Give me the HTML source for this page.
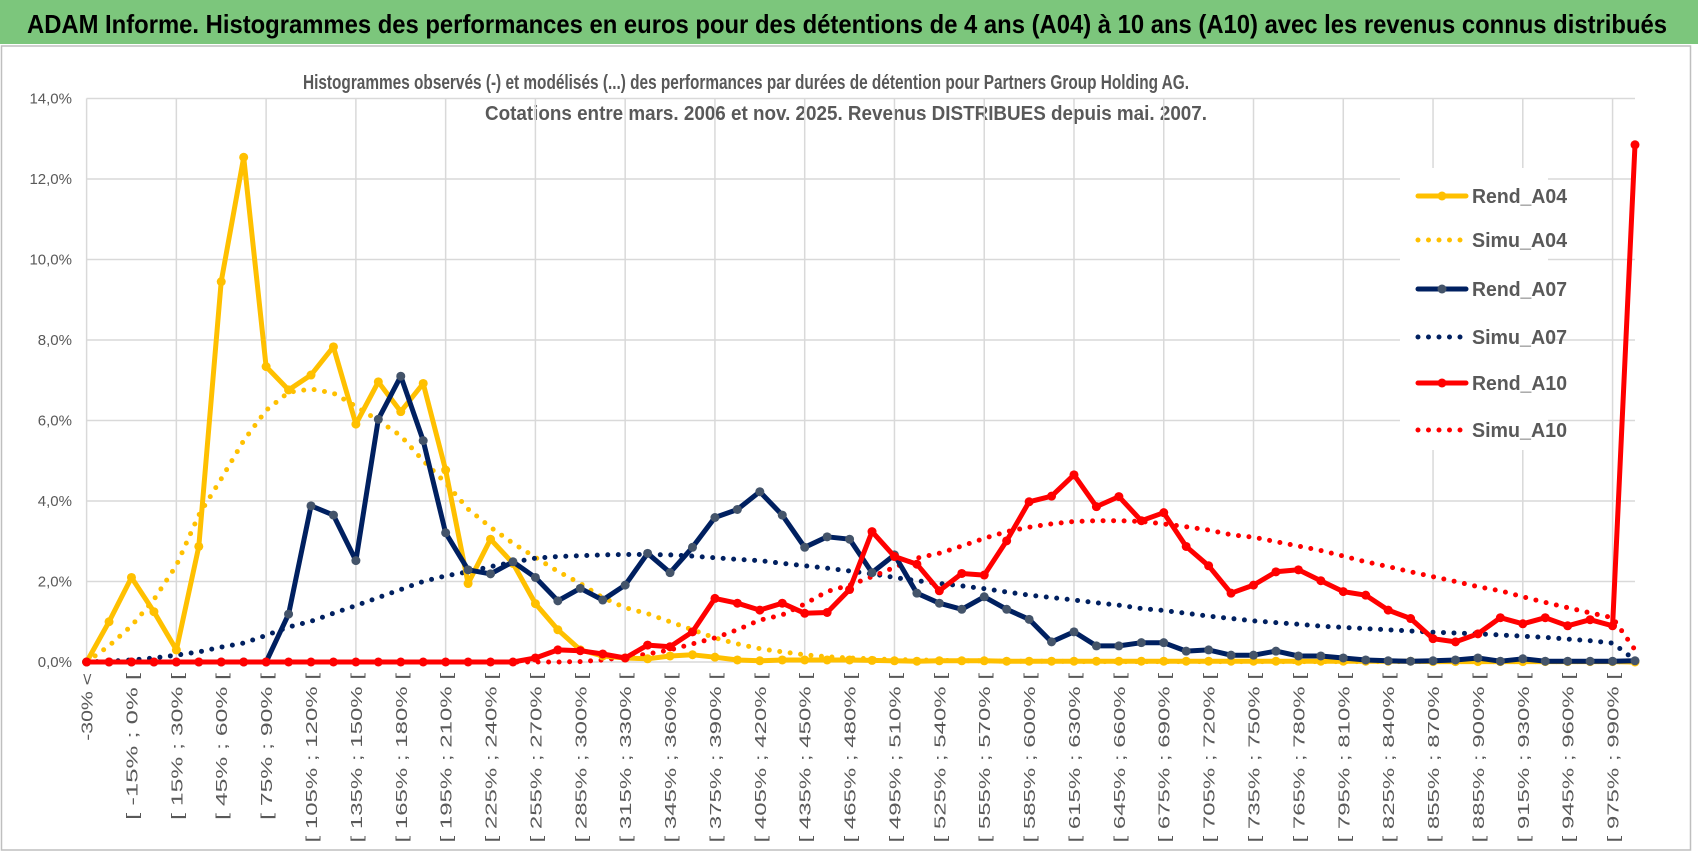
<!DOCTYPE html>
<html><head><meta charset="utf-8"><style>
html,body{margin:0;padding:0;background:#fff;}
svg{display:block;font-family:"Liberation Sans",sans-serif;}
</style></head><body>
<svg id="chart" width="1698" height="854" viewBox="0 0 1698 854">
<rect x="0" y="0" width="1698" height="854" fill="#fff"/>
<rect x="0" y="0" width="1698" height="44" fill="#7cc67c"/>
<text x="27" y="33" font-size="26" font-weight="bold" fill="#000" textLength="1640" lengthAdjust="spacingAndGlyphs">ADAM Informe. Histogrammes des performances en euros pour des détentions de 4 ans (A04) à 10 ans (A10) avec les revenus connus distribués</text>
<rect x="1.5" y="46" width="1689" height="804" fill="none" stroke="#bfbfbf" stroke-width="1.5"/>
<text x="303" y="89" font-size="20" font-weight="bold" fill="#595959" textLength="886" lengthAdjust="spacingAndGlyphs">Histogrammes observés (-) et modélisés (...)  des performances par durées de détention pour Partners Group Holding AG.</text>
<text x="485" y="120" font-size="20" font-weight="bold" fill="#595959" textLength="722" lengthAdjust="spacingAndGlyphs">Cotations entre mars. 2006 et nov. 2025. Revenus DISTRIBUES depuis mai. 2007.</text>
<g id="grid"></g><g id="ylab"></g><g id="xlab"></g><g id="series"></g><g id="legend"></g>
</svg>
<script>
const categories = ["-30% <"];
for (let k = 1; k < 70; k++) { const a = -30 + 15*(k-1); categories.push("[ " + a + "% ; " + (a+15) + "% ["); }
categories[69] = "> 990%";
const yTicks = [0,2,4,6,8,10,12,14];
const yTickLabels = ["0,0%","2,0%","4,0%","6,0%","8,0%","10,0%","12,0%","14,0%"];
const rendA04 = [0,1.0,2.1,1.25,0.3,2.87,9.45,12.54,7.34,6.76,7.13,7.83,5.91,6.96,6.22,6.92,4.77,1.95,3.05,2.45,1.45,0.8,0.3,0.15,0.1,0.08,0.15,0.18,0.12,0.05,0.03,0.05,0.05,0.05,0.05,0.04,0.03,0.02,0.03,0.03,0.03,0.02,0.02,0.02,0.02,0.02,0.02,0.02,0.02,0.02,0.02,0.02,0.02,0.02,0.02,0.02,0.02,0.02,0.02,0.02,0.01,0.01,0.01,0.01,0.01,0.01,0.01,0.01,0.01,0];
const simuA04 = [0,0.4,0.9,1.55,2.4,3.65,4.55,5.5,6.25,6.7,6.78,6.68,6.35,6.0,5.62,5.0,4.45,3.8,3.35,2.95,2.6,2.25,1.95,1.6,1.35,1.2,1.0,0.8,0.6,0.45,0.33,0.25,0.18,0.13,0.1,0.08,0.06,0.05,0.04,0.03,0.03,0.02,0.02,0.02,0.01,0.01,0.01,0.01,0.01,0.01,0.01,0.01,0.01,0.01,0.01,0.01,0.01,0.01,0.01,0.01,0.01,0.01,0.01,0.01,0.01,0.01,0.01,0.01,0.01,0];
const rendA07 = [0,0,0,0,0,0,0,0,0,1.19,3.88,3.65,2.52,6.03,7.1,5.5,3.21,2.29,2.19,2.49,2.1,1.52,1.83,1.54,1.91,2.7,2.22,2.85,3.59,3.79,4.23,3.65,2.85,3.11,3.05,2.22,2.66,1.71,1.46,1.31,1.62,1.31,1.06,0.5,0.75,0.4,0.4,0.48,0.48,0.27,0.3,0.17,0.17,0.27,0.15,0.15,0.1,0.05,0.03,0.02,0.03,0.05,0.1,0.02,0.08,0.02,0.02,0.02,0.02,0.03];
const simuA07 = [0,0.02,0.05,0.1,0.17,0.25,0.37,0.47,0.66,0.87,1.01,1.21,1.4,1.6,1.8,2.0,2.14,2.24,2.37,2.48,2.58,2.62,2.64,2.66,2.67,2.67,2.66,2.63,2.59,2.55,2.52,2.45,2.39,2.33,2.26,2.19,2.1,2.02,1.95,1.89,1.82,1.74,1.66,1.6,1.54,1.47,1.41,1.33,1.28,1.21,1.14,1.08,1.02,0.98,0.94,0.89,0.86,0.83,0.8,0.77,0.74,0.72,0.7,0.67,0.64,0.61,0.57,0.53,0.47,0.05];
const rendA10 = [0,0,0,0,0,0,0,0,0,0,0,0,0,0,0,0,0,0,0,0,0.1,0.3,0.28,0.2,0.1,0.42,0.38,0.75,1.58,1.46,1.29,1.46,1.21,1.23,1.8,3.24,2.62,2.43,1.77,2.2,2.16,3.01,3.98,4.12,4.65,3.86,4.11,3.51,3.71,2.87,2.39,1.71,1.91,2.24,2.29,2.02,1.75,1.66,1.29,1.08,0.58,0.5,0.7,1.1,0.95,1.1,0.9,1.05,0.9,12.85];
const simuA10 = [0,0,0,0,0,0,0,0,0,0,0,0,0,0,0,0,0,0,0,0,0,0,0.01,0.05,0.12,0.2,0.3,0.45,0.6,0.8,1.04,1.17,1.44,1.75,1.91,2.12,2.35,2.58,2.7,2.88,3.07,3.24,3.35,3.43,3.49,3.51,3.51,3.49,3.43,3.36,3.28,3.16,3.1,2.99,2.88,2.77,2.63,2.49,2.37,2.24,2.12,2.0,1.87,1.77,1.62,1.48,1.35,1.22,1.1,0.3];

const NS = "http://www.w3.org/2000/svg";
const X0 = 86.6, X1 = 1635, Y0 = 662, Y14 = 98.5;
const xs = i => X0 + i*(X1-X0)/(categories.length-1);
const ys = v => Y0 - v*(Y0-Y14)/14;
function mk(tag, attrs, parent){ const e=document.createElementNS(NS,tag); for(const k in attrs) e.setAttribute(k,attrs[k]); parent.appendChild(e); return e; }
const grid=document.getElementById('grid'), ylab=document.getElementById('ylab'), xlab=document.getElementById('xlab'), ser=document.getElementById('series'), leg=document.getElementById('legend');
yTicks.forEach((t,j)=>{
  const l=mk('line',{x1:X0,x2:X1,y1:ys(t),y2:ys(t),stroke:'#d9d9d9','stroke-width':1.5},grid);
  
  
  const tx=mk('text',{x:72,y:ys(t)+5,'font-size':15,fill:'#595959','text-anchor':'end'},ylab);
  tx.textContent=yTickLabels[j];
  
  
});
for(let i=0;i<categories.length;i+=4){
  const l=mk('line',{x1:xs(i),x2:xs(i),y1:Y14,y2:Y0,stroke:'#d9d9d9','stroke-width':1.5},grid);
  
  
}
for(let i=0;i<categories.length;i+=2){
  const s=categories[i];
  const tx=mk('text',{x:0,y:0,'font-size':16,fill:'#595959','text-anchor':'end',textLength:s.length*11.3,lengthAdjust:'spacingAndGlyphs',transform:`translate(${xs(i)+6},673) rotate(-90)`},xlab);
  tx.textContent=s;
  
  
}
const seriesDefs=[
  {name:'Rend_A04',data:rendA04,color:'#FFC000',mcol:'#FFC000',dotted:false},
  {name:'Simu_A04',data:simuA04,color:'#FFC000',dotted:true},
  {name:'Rend_A07',data:rendA07,color:'#002060',mcol:'#44546A',dotted:false},
  {name:'Simu_A07',data:simuA07,color:'#002060',dotted:true},
  {name:'Rend_A10',data:rendA10,color:'#FF0000',mcol:'#FF0000',dotted:false},
  {name:'Simu_A10',data:simuA10,color:'#FF0000',dotted:true}
];
const order=[1,3,5,0,2,4];
order.forEach(k=>{
  const d=seriesDefs[k];
  const pts=d.data.map((v,i)=>xs(i).toFixed(1)+','+ys(v).toFixed(1)).join(' ');
  const g=mk('g',{},ser);
  
  
  const pl=mk('polyline',{points:pts,fill:'none',stroke:d.color,'stroke-width':5,'stroke-linejoin':'round','stroke-linecap':'round','stroke-dasharray':d.dotted?'0 10.5':'none'},g);
  
  
  if(!d.dotted){ d.data.forEach((v,i)=>{
    const c=mk('circle',{cx:xs(i),cy:ys(v),r:4.5,fill:d.mcol},g);
    
    
  }); }
});
mk('rect',{x:1400,y:168,width:148,height:282,fill:'#fff'},leg);
const legY=[196,240,289,337,383,430];
seriesDefs.forEach((d,j)=>{
  const g=mk('g',{},leg);
  
  
  mk('line',{x1:1418,x2:1466,y1:legY[j],y2:legY[j],stroke:d.color,'stroke-width':5,'stroke-linecap':'round','stroke-dasharray':d.dotted?'0 10.5':'none'},g);
  if(!d.dotted) mk('circle',{cx:1442,cy:legY[j],r:4.5,fill:d.mcol},g);
  const t=mk('text',{x:1472,y:legY[j]+7,'font-size':20,'font-weight':'bold',fill:'#595959',textLength:95,lengthAdjust:'spacingAndGlyphs'},g);
  t.textContent=d.name;
});
</script>
</body></html>
